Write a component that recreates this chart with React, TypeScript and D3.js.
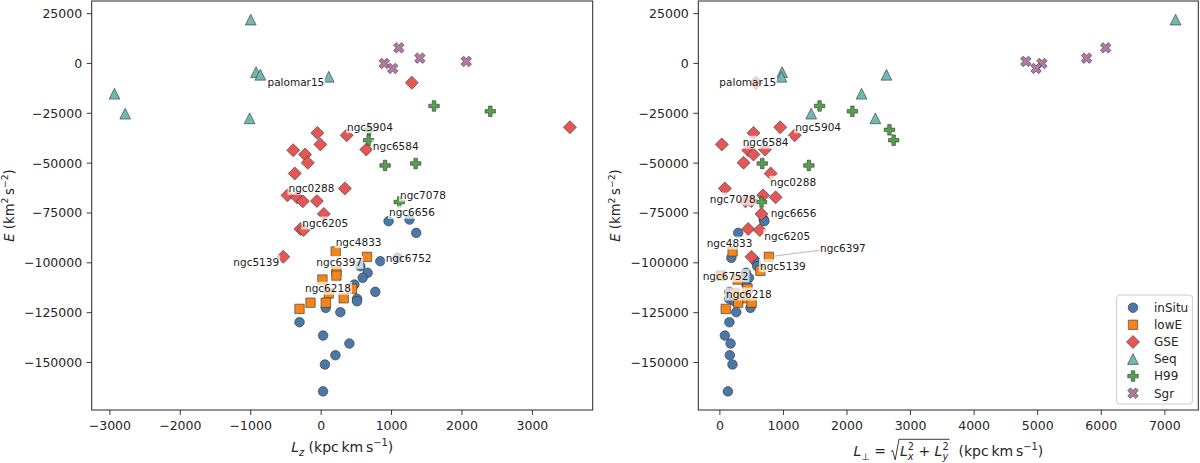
import React, { useEffect, useRef } from 'react';
import * as d3 from 'd3';

const W = 1200;
const H = 463;

// Population names, colours and marker shapes (legend order = draw order)
const groupNames = ['inSitu', 'lowE', 'GSE', 'Seq', 'H99', 'Sgr'];
const groupColors = ['#4c78a8', '#f58518', '#e45756', '#72b7b2', '#54a24b', '#b279a2'];
const groupShapes = ['circle', 'square', 'diamond', 'triangle', 'plus', 'x'];

// inSitu clusters: Lz, L_perp (kpc km/s), E (km^2/s^2)
const inSituLz = [1255, 958, 1350, 1085, 840, 557, 660, 590, 472, 769, 510, 510, 65, 273, -307, 28, 401, 203, 54, 27];
const inSituLperp = [690, 700, 288, 180, 559, 587, 409, 457, 420, 150, 150, 230, 481, 258, 150, 78, 168, 156, 198, 126];
const inSituE = [-78300, -79130, -85000, -97500, -99200, -101700, -105000, -107500, -110900, -114560, -118060, -119270, -122580, -124780, -129800, -136480, -140490, -146350, -151000, -164500];

// low-energy group
const lowELz = [207, 651, 217, 217, 18, 439, 108, 320, -151, 66, -307];
const lowELperp = [200, 770, 637, 18, 280, 435, 230, 400, 288, 500, 92];
const lowEE = [-94300, -97000, -104000, -106400, -108400, -113000, -115400, -117800, -120000, -120000, -123100];

// Gaia-Sausage-Enceladus
const gseLz = [1288, 3533, -54, 364, -11, 641, -397, -228, -190, -375, 337, -478, -342, -261, -60, 38, -293, -250, -538];
const gseLperp = [571, 949, 529, 1178, 30, 709, 445, 529, 373, 799, 78, 679, 877, 403, 497, 654, 445, 627, 497];
const gseE = [-9670, -32000, -34840, -36000, -40600, -43170, -43500, -45670, -49800, -55170, -62670, -66170, -67170, -69170, -69000, -75500, -83000, -83600, -97000];

// Sequoia
const seqLz = [-1000, -2935, -2783, -1016, -924, -864, 109];
const seqLperp = [7169, 2229, 1436, 2446, 979, 2620, 967];
const seqE = [22000, -15170, -25170, -27500, -4330, -5670, -6670];

// Helmi streams
const h99Lz = [1603, 2402, 680, 674, 1342, 908, 1109];
const h99Lperp = [1568, 2085, 2668, 2734, 667, 1400, 655];
const h99E = [-21330, -24000, -33300, -38500, -50170, -51170, -69500];

// Sagittarius
const sgrLz = [1103, 897, 1016, 1402, 2060];
const sgrLperp = [6069, 5066, 4975, 5769, 4813];
const sgrE = [7830, 0, -2500, 2670, 1000];

// Axis ticks
const yTicks = [25000, 0, -25000, -50000, -75000, -100000, -125000, -150000];
const lzTicks = [-3000, -2000, -1000, 0, 1000, 2000, 3000];
const lperpTicks = [0, 1000, 2000, 3000, 4000, 5000, 6000, 7000];

// Cluster name annotations (text anchor in data units, per panel)
const labelNames = ['palomar15', 'ngc5904', 'ngc6584', 'ngc0288', 'ngc7078', 'ngc6656', 'ngc6205', 'ngc4833', 'ngc5139', 'ngc6397', 'ngc6752', 'ngc6218'];
const labelLzX = [-762, 368, 734, -463, 1120, 964, -267, 207, -1247, -68, 917, -229];
const labelLzE = [-9956, -32226, -42057, -63123, -66484, -75162, -80529, -89908, -99940, -100240, -98084, -113282];
const labelLperpX = [-8, 1185, 359, 793, -159, 799, 699, -208, 631, 1575, -271, 96];
const labelLperpE = [-9956, -32226, -40051, -60114, -68490, -75513, -86898, -90560, -101946, -93217, -106962, -116140];

const groupLz = [inSituLz, lowELz, gseLz, seqLz, h99Lz, sgrLz];
const groupLperp = [inSituLperp, lowELperp, gseLperp, seqLperp, h99Lperp, sgrLperp];
const groupE = [inSituE, lowEE, gseE, seqE, h99E, sgrE];

const FONT = '"DejaVu Sans", sans-serif';
const INK = '#262626';
const TICK_FS = 12.5;
const AXIS_FS = 14;
const LABEL_FS = 10.5;

function paddedExtent(vals: number[]): [number, number] {
  const lo = d3.min(vals) as number;
  const hi = d3.max(vals) as number;
  const m = (hi - lo) * 0.05;
  return [lo - m, hi + m];
}

function polyPath(pts: number[][], k: number): string {
  return 'M' + pts.map((p) => `${(p[0] * k).toFixed(2)},${(p[1] * k).toFixed(2)}`).join('L') + 'Z';
}

function markerPath(shape: string): string {
  if (shape === 'circle') {
    const r = 4.8;
    return `M${r},0A${r},${r} 0 1,1 ${-r},0A${r},${r} 0 1,1 ${r},0Z`;
  }
  if (shape === 'square') {
    const h = 4.7;
    return `M${-h},${-h}L${h},${-h}L${h},${h}L${-h},${h}Z`;
  }
  if (shape === 'diamond') {
    const h = 6.5;
    return `M0,${-h}L${h},0L0,${h}L${-h},0Z`;
  }
  if (shape === 'triangle') {
    const h = 5.4;
    return `M0,${-h}L${h},${h}L${-h},${h}Z`;
  }
  if (shape === 'plus') {
    return polyPath([[-1, -3], [1, -3], [1, -1], [3, -1], [3, 1], [1, 1], [1, 3], [-1, 3], [-1, 1], [-3, 1], [-3, -1], [-1, -1]], 10.5 / 6);
  }
  return polyPath([[-1, -2], [0, -1], [1, -2], [2, -1], [1, 0], [2, 1], [1, 2], [0, 1], [-1, 2], [-2, 1], [-1, 0], [-2, -1]], 10.5 / 4);
}

type Run = { t: string; it?: boolean; sub?: boolean; sup?: boolean; stack?: boolean };

// Lays out a sequence of text runs (with sub/superscripts) starting at x0; returns the end x.
function layoutRuns(g: d3.Selection<SVGGElement, unknown, null, undefined>, runs: Run[], fs: number, x0: number): number {
  let x = x0;
  let stackW = 0;
  runs.forEach((r) => {
    const small = r.sub || r.sup;
    const dy = r.sub ? fs * 0.28 : r.sup ? -fs * 0.42 : 0;
    const el = g
      .append('text')
      .attr('x', x)
      .attr('y', dy)
      .attr('font-size', small ? fs * 0.7 : fs)
      .attr('font-style', r.it ? 'italic' : 'normal')
      .attr('fill', INK)
      .style('white-space', 'pre')
      .text(r.t);
    const w = (el.node() as SVGTextElement).getComputedTextLength();
    if (r.stack) {
      stackW = w;
    } else {
      x += Math.max(w, stackW);
      stackW = 0;
    }
  });
  return x;
}

export default function App() {
  const ref = useRef<SVGSVGElement>(null);

  useEffect(() => {
    const svg = d3.select(ref.current as SVGSVGElement);
    svg.selectAll('*').remove();
    svg.attr('font-family', FONT);

    const top = 1;
    const bottom = 410;
    const allE = groupE.flat();
    const y = d3.scaleLinear().domain(paddedExtent(allE)).range([bottom, top]);

    const panels = [
      { left: 91.7, right: 592.7, xs: groupLz, ticks: lzTicks, lx: labelLzX, le: labelLzE, legend: false },
      { left: 698.3, right: 1198.3, xs: groupLperp, ticks: lperpTicks, lx: labelLperpX, le: labelLperpE, legend: true },
    ];

    panels.forEach((p, pi) => {
      const g = svg.append('g');
      const x = d3.scaleLinear().domain(paddedExtent(p.xs.flat())).range([p.left, p.right]);

      // y ticks
      yTicks.forEach((v) => {
        const yy = y(v);
        g.append('line').attr('x1', p.left - 5).attr('x2', p.left).attr('y1', yy).attr('y2', yy).attr('stroke', INK).attr('stroke-width', 0.9);
        g.append('text')
          .attr('x', p.left - 9.5)
          .attr('y', yy + 4.5)
          .attr('text-anchor', 'end')
          .attr('font-size', TICK_FS)
          .attr('fill', INK)
          .text(d3.format('d')(v).replace('-', '\u2212'));
      });
      // x ticks
      p.ticks.forEach((v) => {
        const xx = x(v);
        g.append('line').attr('x1', xx).attr('x2', xx).attr('y1', bottom).attr('y2', bottom + 5).attr('stroke', INK).attr('stroke-width', 0.9);
        g.append('text')
          .attr('x', xx)
          .attr('y', 429.5)
          .attr('text-anchor', 'middle')
          .attr('font-size', TICK_FS)
          .attr('fill', INK)
          .text(d3.format('d')(v).replace('-', '\u2212'));
      });

      // scatter markers
      groupNames.forEach((_, gi) => {
        const xs = p.xs[gi];
        const es = groupE[gi];
        const d = markerPath(groupShapes[gi]);
        xs.forEach((xv, j) => {
          g.append('path')
            .attr('d', d)
            .attr('transform', `translate(${x(xv)},${y(es[j])})`)
            .attr('fill', groupColors[gi])
            .attr('stroke', '#333333')
            .attr('stroke-width', 0.6);
        });
      });

      // leader line for the displaced annotation
      if (pi === 1) {
        const k = labelNames.indexOf('ngc6397');
        g.append('line')
          .attr('x1', x(lowELperp[1]) + 4)
          .attr('y1', y(lowEE[1]) - 0.5)
          .attr('x2', x(p.lx[k]) - 1)
          .attr('y2', y(p.le[k]) + 1)
          .attr('stroke', '#b0b0b0')
          .attr('stroke-width', 0.9);
      }

      // cluster annotations with translucent white boxes
      labelNames.forEach((name, k) => {
        const lg = g.append('g');
        const t = lg
          .append('text')
          .attr('x', x(p.lx[k]))
          .attr('y', y(p.le[k]) + 3)
          .attr('font-size', LABEL_FS)
          .attr('fill', '#1a1a1a')
          .text(name);
        const bb = (t.node() as SVGTextElement).getBBox();
        lg.insert('rect', 'text')
          .attr('x', bb.x - 1)
          .attr('y', bb.y - 0.5)
          .attr('width', bb.width + 2)
          .attr('height', bb.height + 1)
          .attr('fill', '#ffffff')
          .attr('fill-opacity', 0.7);
      });

      // frame
      g.append('rect')
        .attr('x', p.left)
        .attr('y', top)
        .attr('width', p.right - p.left)
        .attr('height', bottom - top)
        .attr('fill', 'none')
        .attr('stroke', INK)
        .attr('stroke-width', 1);

      // y axis label (rotated)
      const yl = g.append('g');
      const ylw = layoutRuns(yl, [
        { t: 'E', it: true },
        { t: ' (km' },
        { t: '2', sup: true },
        { t: '\u2009s' },
        { t: '\u22122', sup: true },
        { t: ')' },
      ], 13.2, 0);
      yl.attr('transform', `translate(${p.left - 78.2},${(top + bottom) / 2}) rotate(-90) translate(${-ylw / 2},0)`);

      // x axis label
      const xl = g.append('g');
      const cx = (p.left + p.right) / 2;
      if (pi === 0) {
        const w = layoutRuns(xl, [
          { t: 'L', it: true },
          { t: 'z', it: true, sub: true },
          { t: ' (kpc\u2009km\u2009s' },
          { t: '\u22121', sup: true },
          { t: ')' },
        ], AXIS_FS, 0);
        xl.attr('transform', `translate(${cx - w / 2},452.3)`);
      } else {
        let xp = layoutRuns(xl, [
          { t: 'L', it: true },
          { t: '\u22a5', sub: true },
          { t: ' = ' },
        ], AXIS_FS, 0);
        const r0 = xp;
        xp = layoutRuns(xl, [
          { t: 'L', it: true },
          { t: 'x', it: true, sub: true, stack: true },
          { t: '2', sup: true },
          { t: ' + ' },
          { t: 'L', it: true },
          { t: 'y', it: true, sub: true, stack: true },
          { t: '2', sup: true },
        ], AXIS_FS, r0 + 9.5);
        const rEnd = xp + 1;
        xl.append('path')
          .attr('d', `M${r0 + 0.5},-4.5L${r0 + 2.2},-5.5L${r0 + 4.8},3.8L${r0 + 8.6},-16.7L${rEnd},-16.7`)
          .attr('fill', 'none')
          .attr('stroke', INK)
          .attr('stroke-width', 0.9);
        xp = layoutRuns(xl, [
          { t: '  (kpc\u2009km\u2009s' },
          { t: '\u22121', sup: true },
          { t: ')' },
        ], AXIS_FS, rEnd);
        xl.attr('transform', `translate(${cx - xp / 2},456)`);
      }

      // legend
      if (p.legend) {
        const lgX = 1116.6;
        const lgY = 295;
        const lg = g.append('g');
        lg.append('rect')
          .attr('x', lgX)
          .attr('y', lgY)
          .attr('width', 75.8)
          .attr('height', 109)
          .attr('rx', 3)
          .attr('fill', '#ffffff')
          .attr('fill-opacity', 0.8)
          .attr('stroke', '#cccccc')
          .attr('stroke-width', 1);
        groupNames.forEach((name, gi) => {
          const ry = lgY + 12.7 + gi * 17.1;
          lg.append('path')
            .attr('d', markerPath(groupShapes[gi]))
            .attr('transform', `translate(${lgX + 16.4},${ry})`)
            .attr('fill', groupColors[gi])
            .attr('stroke', '#333333')
            .attr('stroke-width', 0.6);
          lg.append('text')
            .attr('x', lgX + 37.4)
            .attr('y', ry + 4.3)
            .attr('font-size', 12)
            .attr('fill', INK)
            .text(name);
        });
      }
    });
  }, []);

  return (
    <svg
      ref={ref}
      width={W}
      height={H}
      style={{ position: 'absolute', left: 0, top: 0, background: '#ffffff' }}
    />
  );
}
